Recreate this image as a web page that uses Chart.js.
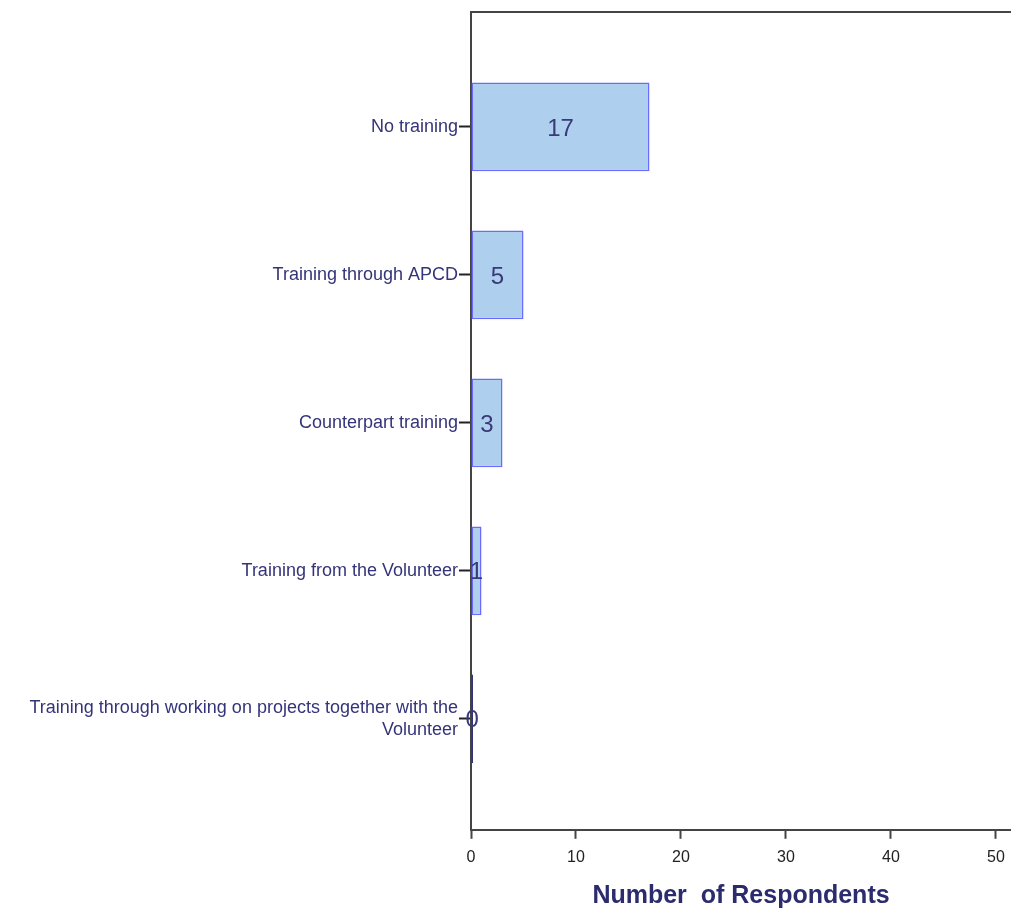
<!DOCTYPE html>
<html>
<head>
<meta charset="utf-8">
<script src="https://cdn.jsdelivr.net/npm/chart.js@4"></script>
<style>
  html, body { margin: 0; padding: 0; background: #fff; }
  #wrap { width: 1011px; height: 908px; }
</style>
</head>
<body>
<div id="wrap"><canvas id="grafico" width="1011" height="908"></canvas></div>
<script>
// dados
const categorias = [
  "No training",
  "Training through APCD",
  "Counterpart training",
  "Training from the Volunteer",
  ["Training through working on projects together with the", "Volunteer"]
];
const respondentes = [17, 5, 3, 1, 0];
const ticksX = [0, 10, 20, 30, 40, 50];

const corTexto = "#34347a";
const corEixo = "#444444";
const fonte = "'Liberation Sans', Arial, sans-serif";

// rótulos de valor dentro das barras
const rotulosValor = {
  id: "rotulosValor",
  afterDatasetsDraw(chart) {
    const ctx = chart.ctx;
    const meta = chart.getDatasetMeta(0);
    ctx.save();
    ctx.fillStyle = "#3a3a78";
    ctx.font = "24px " + fonte;
    ctx.textAlign = "center";
    ctx.textBaseline = "middle";
    meta.data.forEach((bar, i) => {
      const x = (bar.x + bar.base) / 2;
      ctx.fillText(String(respondentes[i]), x, bar.y + 2);
    });
    ctx.restore();
  }
};

// linha de cima do quadro
const quadro = {
  id: "quadro",
  afterDraw(chart) {
    const a = chart.chartArea;
    const ctx = chart.ctx;
    ctx.save();
    ctx.strokeStyle = corEixo;
    ctx.lineWidth = 2;
    ctx.beginPath();
    ctx.moveTo(a.left, a.top);
    ctx.lineTo(a.right, a.top);
    ctx.stroke();
    ctx.restore();
  }
};

new Chart(document.getElementById("grafico").getContext("2d"), {
  type: "bar",
  data: {
    datasets: [{
      data: respondentes.map((v, i) => ({ x: v, y: i })),
      backgroundColor: "#aecfee",
      borderColor: respondentes.map(v => v === 0 ? "#33337a" : "#6b6bff"),
      borderWidth: 1.5,
      borderSkipped: false,
      categoryPercentage: 0.6,
      barPercentage: 1,
      minBarLength: 2
    }]
  },
  options: {
    indexAxis: "y",
    responsive: false,
    animation: false,
    layout: { padding: { top: 12, right: 0, left: 0, bottom: -3 } },
    plugins: {
      legend: { display: false },
      tooltip: { enabled: false }
    },
    scales: {
      x: {
        type: "linear",
        min: 0,
        max: 51.43,
        afterBuildTicks: (axis) => {
          axis.ticks = ticksX.map(v => ({ value: v }));
        },
        afterFit: (axis) => {
          axis.paddingLeft = 0;
          axis.paddingRight = 0;
        },
        grid: {
          display: true,
          drawOnChartArea: false,
          drawTicks: true,
          tickLength: 9,
          tickWidth: 2,
          tickColor: corEixo
        },
        border: { color: corEixo, width: 2 },
        ticks: {
          color: "#222",
          font: { family: fonte, size: 16 },
          padding: 9,
          maxRotation: 0
        },
        title: {
          display: true,
          text: "Number  of Respondents",
          color: "#2b2b6e",
          font: { family: fonte, size: 25, weight: "bold" },
          padding: { top: 5, bottom: 0 }
        }
      },
      y: {
        type: "linear",
        reverse: true,
        offset: false,
        min: -0.777,
        max: 4.75,
        afterBuildTicks: (axis) => {
          axis.ticks = categorias.map((c, i) => ({ value: i }));
        },
        afterFit: (axis) => {
          axis.width = 471;
          axis.paddingTop = 0;
          axis.paddingBottom = 0;
        },
        grid: {
          display: true,
          offset: false,
          drawOnChartArea: false,
          drawTicks: true,
          tickLength: 12,
          tickWidth: 2,
          tickColor: "#222"
        },
        border: { color: corEixo, width: 2 },
        ticks: {
          color: corTexto,
          font: { family: fonte, size: 18 },
          padding: 1,
          autoSkip: false,
          callback: (v) => categorias[v]
        }
      }
    }
  },
  plugins: [rotulosValor, quadro]
});
</script>
</body>
</html>
